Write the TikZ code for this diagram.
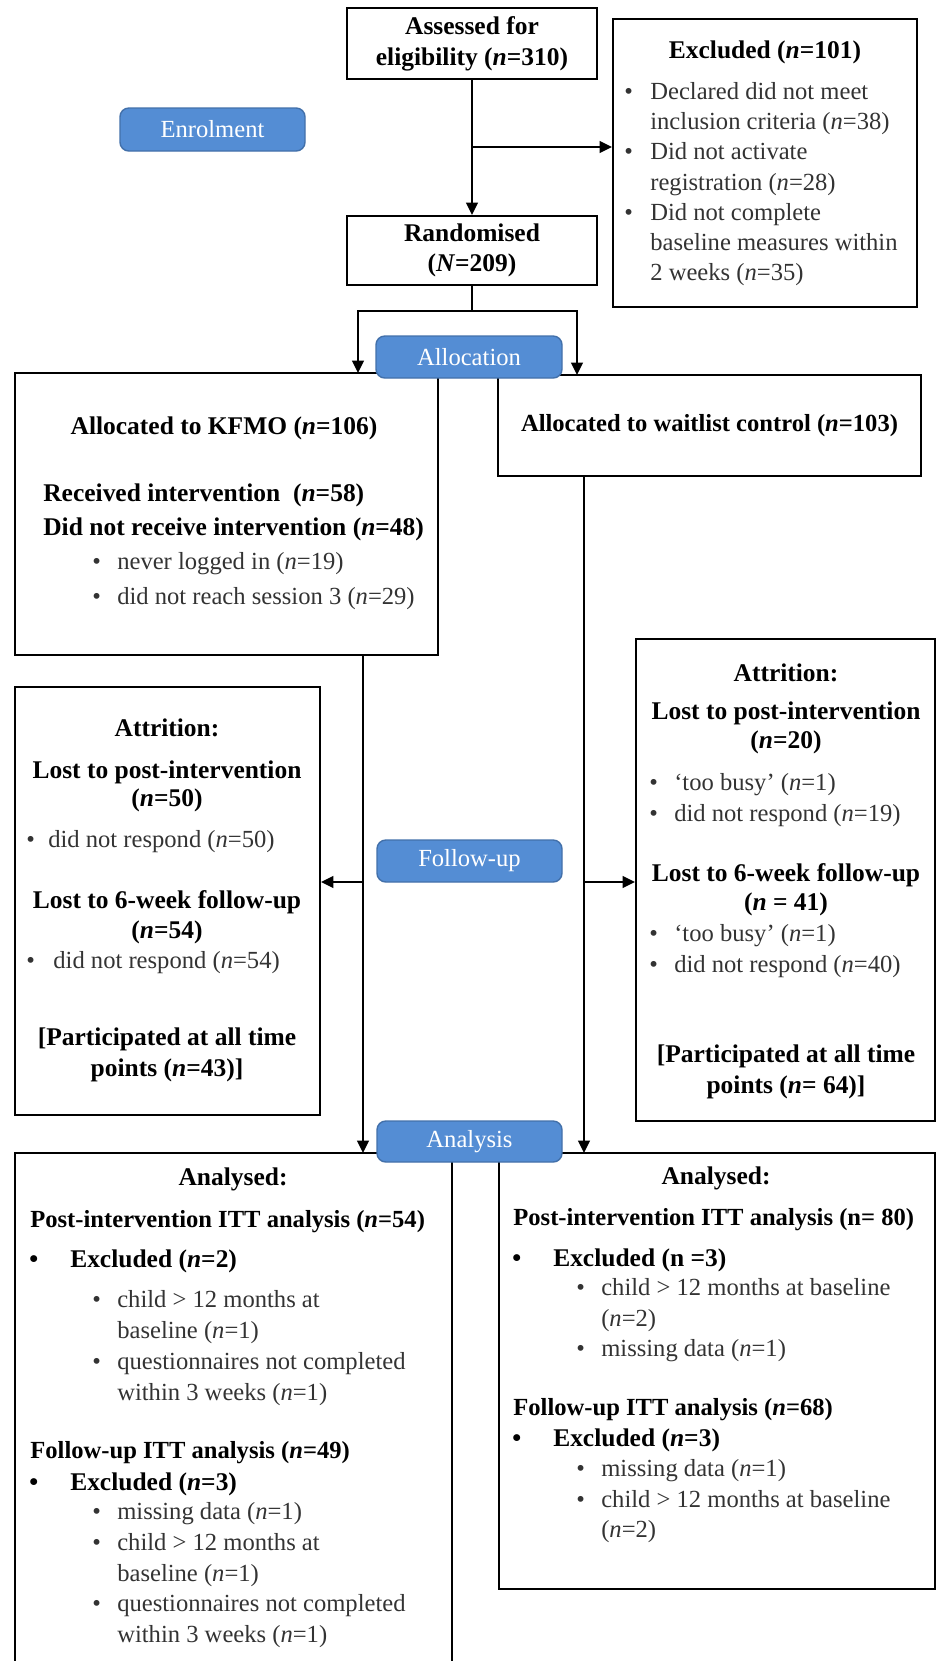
\documentclass[tikz,border=0pt]{standalone}
\usepackage{fontspec}
\setmainfont{Liberation Serif}
\usetikzlibrary{arrows.meta,fit}

\definecolor{stageblue}{RGB}{84,141,212}
\definecolor{stageedge}{RGB}{66,112,170}

\tikzset{
  box/.style={draw, line width=1.1pt, inner sep=0pt},
  stage/.style={draw=stageedge, line width=0.8pt, fill=stageblue, rounded corners=5pt, inner sep=0pt},
  stagetext/.style={inner sep=0pt, text=white, font=\fontsize{14}{17}\selectfont},
  link/.style={line width=1.4pt},
  arr/.style={link, -{Triangle[length=7pt,width=6.5pt]}},
  hd/.style={inner sep=0pt, font=\fontsize{14.5}{17.5}\selectfont\bfseries},
  rg/.style={inner sep=0pt, text=black!80, font=\fontsize{14}{17.5}\selectfont},
}

\begin{document}
\begin{tikzpicture}[x=0.02cm, y=-0.02cm]
\useasboundingbox (0,0) rectangle (938,1661);
\clip (0,0) rectangle (938,1661);

% enrolment
\node[box, fit={(347,8) (597,79)}] (assess) {};
\node[hd, align=center, font=\fontsize{14.5}{17.6}\selectfont\bfseries] (assesstext) at (assess.center) {Assessed for\\eligibility (\textit{n}=310)};
\node[box, fit={(613,19) (917,307)}] (excl) {};
\node[hd] (excltitle) at (765,52) {Excluded (\textit{n}=101)};
\node[rg, anchor=west, font=\fontsize{14}{17.1}\selectfont] (excllist) at (624,184) {\begin{tabular}{@{}p{14.8pt}@{}l@{}}
\textbullet & Declared did not meet\\
 & inclusion criteria (\textit{n}=38)\\
\textbullet & Did not activate\\
 & registration (\textit{n}=28)\\
\textbullet & Did not complete\\
 & baseline measures within\\
 & 2 weeks (\textit{n}=35)
\end{tabular}};
\node[box, fit={(347,216) (597,285)}] (rand) {};
\node[hd, align=center, font=\fontsize{14.5}{17}\selectfont\bfseries] (randtext) at (rand.center) {Randomised\\(\textit{N}=209)};

% allocation
\node[box, fit={(15,373) (438,655)}] (kfmo) {};
\node[hd] (kfmotitle) at (224,428) {Allocated to KFMO (\textit{n}=106)};
\node[hd, anchor=west, align=left, font=\fontsize{14.5}{19.3}\selectfont\bfseries] (kfmorecv) at (43,512) {Received intervention\enspace(\textit{n}=58)\\Did not receive intervention (\textit{n}=48)};
\node[rg, anchor=west, font=\fontsize{14}{19.9}\selectfont] (kfmobul) at (92,580) {\begin{tabular}{@{}p{14.2pt}@{}l@{}}
\textbullet & never logged in (\textit{n}=19)\\
\textbullet & did not reach session 3 (\textit{n}=29)
\end{tabular}};
\node[box, fit={(498,375) (921,476)}] (wait) {};
\node[hd, font=\fontsize{14}{17}\selectfont\bfseries] (waittext) at (wait.center) {Allocated to waitlist control (\textit{n}=103)};

% follow-up
\node[box, fit={(15,687) (320,1115)}] (attrL) {};
\node[hd] (attrLtitle) at (167,728) {Attrition:};
\node[hd, align=center, font=\fontsize{14.5}{16}\selectfont\bfseries] (attrLpost) at (167,786) {Lost to post-intervention\\(\textit{n}=50)};
\node[rg, anchor=west] (attrLpostb) at (26,841) {\begin{tabular}{@{}p{12.5pt}@{}l@{}}
\textbullet & did not respond (\textit{n}=50)
\end{tabular}};
\node[hd, align=center, font=\fontsize{14.5}{17}\selectfont\bfseries] (attrLfu) at (167,917) {Lost to 6-week follow-up\\(\textit{n}=54)};
\node[rg, anchor=west] (attrLfub) at (26,962) {\begin{tabular}{@{}p{15.4pt}@{}l@{}}
\textbullet & did not respond (\textit{n}=54)
\end{tabular}};
\node[hd, align=center] (attrLall) at (167,1055) {[Participated at all time\\points (\textit{n}=43)]};

\node[box, fit={(636,639) (935,1121)}] (attrR) {};
\node[hd] (attrRtitle) at (786,673) {Attrition:};
\node[hd, align=center, font=\fontsize{14.5}{16.5}\selectfont\bfseries] (attrRpost) at (786,728) {Lost to post-intervention\\(\textit{n}=20)};
\node[rg, anchor=west] (attrRpostb) at (649,800) {\begin{tabular}{@{}p{14.2pt}@{}l@{}}
\textbullet & `too busy' (\textit{n}=1)\\
\textbullet & did not respond (\textit{n}=19)
\end{tabular}};
\node[hd, align=center, font=\fontsize{14.5}{16.5}\selectfont\bfseries] (attrRfu) at (786,890) {Lost to 6-week follow-up\\(\textit{n} = 41)};
\node[rg, anchor=west] (attrRfub) at (649,951) {\begin{tabular}{@{}p{14.2pt}@{}l@{}}
\textbullet & `too busy' (\textit{n}=1)\\
\textbullet & did not respond (\textit{n}=40)
\end{tabular}};
\node[hd, align=center] (attrRall) at (786,1072) {[Participated at all time\\points (\textit{n}= 64)]};

% analysis
\node[box, fit={(15,1153) (452,1675)}] (anaL) {};
\node[hd] (anaLtitle) at (233,1179) {Analysed:};
\node[hd, anchor=west, font=\fontsize{14}{17}\selectfont\bfseries] (anaLpost) at (30,1222) {Post-intervention ITT analysis (\textit{n}=54)};
\node[hd, anchor=west] (anaLpostex) at (29,1261) {\begin{tabular}{@{}p{23.3pt}@{}l@{}}
\textbullet & Excluded (\textit{n}=2)
\end{tabular}};
\node[rg, anchor=west, font=\fontsize{14}{17.6}\selectfont] (anaLpostb) at (92,1348) {\begin{tabular}{@{}p{14.2pt}@{}l@{}}
\textbullet & child > 12 months at\\
 & baseline (\textit{n}=1)\\
\textbullet & questionnaires not completed\\
 & within 3 weeks (\textit{n}=1)
\end{tabular}};
\node[hd, anchor=west, font=\fontsize{14}{17}\selectfont\bfseries] (anaLfu) at (30,1453) {Follow-up ITT analysis (\textit{n}=49)};
\node[hd, anchor=west] (anaLfuex) at (29,1484) {\begin{tabular}{@{}p{23.3pt}@{}l@{}}
\textbullet & Excluded (\textit{n}=3)
\end{tabular}};
\node[rg, anchor=west, font=\fontsize{14}{17.4}\selectfont] (anaLfub) at (92,1575) {\begin{tabular}{@{}p{14.2pt}@{}l@{}}
\textbullet & missing data (\textit{n}=1)\\
\textbullet & child > 12 months at\\
 & baseline (\textit{n}=1)\\
\textbullet & questionnaires not completed\\
 & within 3 weeks (\textit{n}=1)
\end{tabular}};

\node[box, fit={(499,1153) (935,1589)}] (anaR) {};
\node[hd] (anaRtitle) at (716,1178) {Analysed:};
\node[hd, anchor=west, font=\fontsize{14}{17}\selectfont\bfseries] (anaRpost) at (513,1220) {Post-intervention ITT analysis (n= 80)};
\node[hd, anchor=west] (anaRpostex) at (512,1260) {\begin{tabular}{@{}p{23.3pt}@{}l@{}}
\textbullet & Excluded (n =3)
\end{tabular}};
\node[rg, anchor=west, font=\fontsize{14}{17.4}\selectfont] (anaRpostb) at (576,1320) {\begin{tabular}{@{}p{14.2pt}@{}l@{}}
\textbullet & child > 12 months at baseline\\
 & (\textit{n}=2)\\
\textbullet & missing data (\textit{n}=1)
\end{tabular}};
\node[hd, anchor=west, font=\fontsize{14}{17}\selectfont\bfseries] (anaRfu) at (513,1410) {Follow-up ITT analysis (\textit{n}=68)};
\node[hd, anchor=west] (anaRfuex) at (512,1440) {\begin{tabular}{@{}p{23.3pt}@{}l@{}}
\textbullet & Excluded (\textit{n}=3)
\end{tabular}};
\node[rg, anchor=west, font=\fontsize{14}{17.4}\selectfont] (anaRfub) at (576,1501) {\begin{tabular}{@{}p{14.2pt}@{}l@{}}
\textbullet & missing data (\textit{n}=1)\\
\textbullet & child > 12 months at baseline\\
 & (\textit{n}=2)
\end{tabular}};

% connectors
\coordinate (exclbr) at (472,147);
\coordinate (split) at (472,311);
\coordinate (allocL) at (358,373);
\coordinate (allocR) at (577,375);
\coordinate (kfmoout) at (363,655);
\coordinate (waitout) at (584,476);
\coordinate (fupL) at (363,882);
\coordinate (fupR) at (584,882);
\coordinate (anaLin) at (363,1153);
\coordinate (anaRin) at (584,1153);

\draw[arr] (assess) -- (rand);
\draw[arr] (exclbr) -- (exclbr -| excl.west);
\draw[link] (rand) -- (split);
\draw[arr] (split) -| (allocL);
\draw[arr] (split) -| (allocR);
\draw[arr] (kfmoout) -- (anaLin);
\draw[arr] (fupL) -- (fupL -| attrL.east);
\draw[arr] (waitout) -- (anaRin);
\draw[arr] (fupR) -- (fupR -| attrR.west);

% stage labels
\node[stage, fit={(120,108) (305,151)}] (enrol) {};
\node[stagetext] (enroltext) at (enrol.center) {Enrolment};
\node[stage, fit={(376,336) (562,378)}] (alloc) {};
\node[stagetext] (alloctext) at (alloc.center) {Allocation};
\node[stage, fit={(377,840) (562,882)}] (fup) {};
\node[stagetext] (fuptext) at (fup.center) {Follow-up};
\node[stage, fit={(377,1121) (562,1162)}] (anal) {};
\node[stagetext] (analtext) at (anal.center) {Analysis};
\end{tikzpicture}
\end{document}
